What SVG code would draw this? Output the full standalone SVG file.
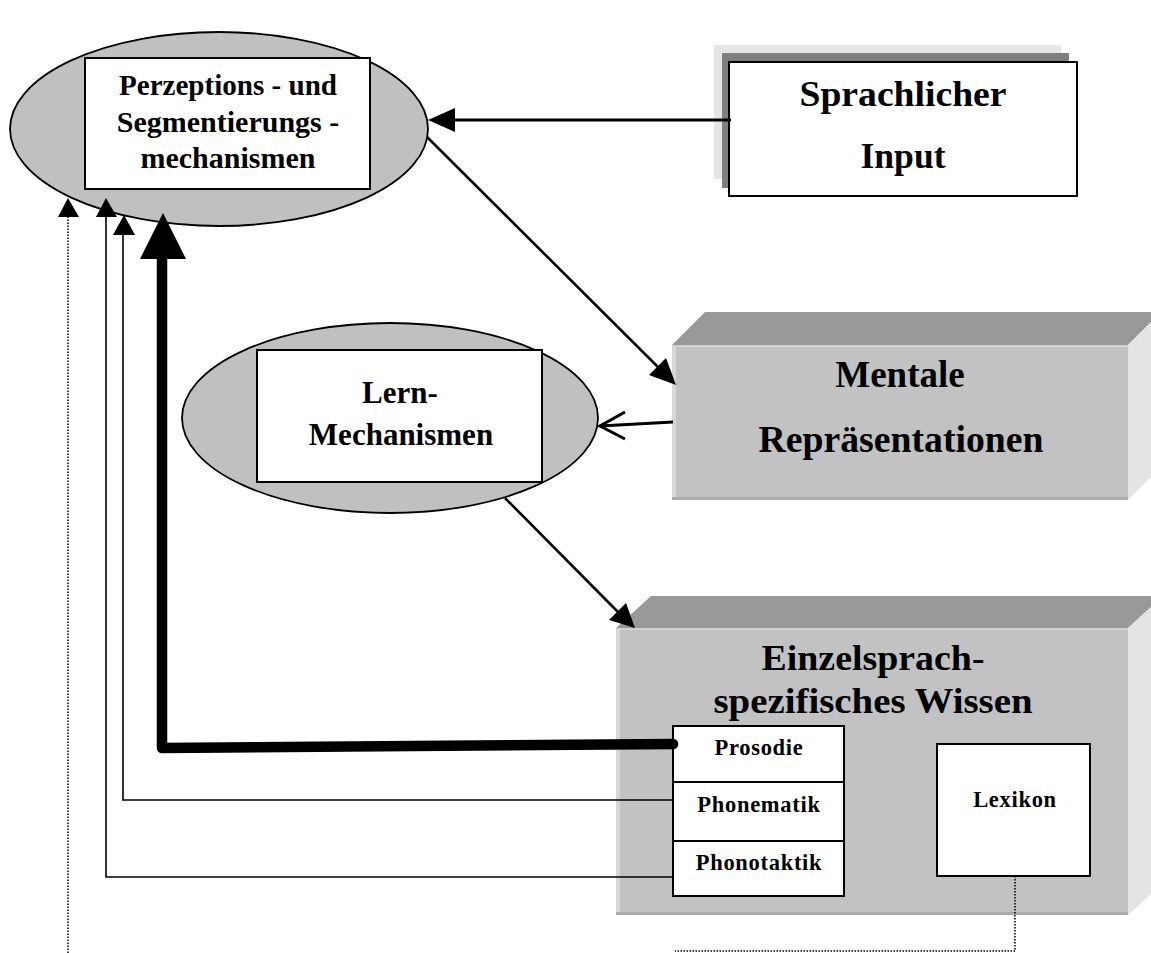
<svg xmlns="http://www.w3.org/2000/svg" width="1151" height="953" viewBox="0 0 1151 953">
<defs>
<style>
text{font-family:"Liberation Serif","Times New Roman",serif;font-weight:bold;fill:#000;text-anchor:middle}
.ell{fill:#c0c0c0;stroke:#000;stroke-width:1.8}
.wbox{fill:#fff;stroke:#000;stroke-width:2}
.top{fill:#999999}
.front{fill:#c2c2c2}
.side{fill:#e4e4e4}
.small{font-size:22.5px;letter-spacing:0.7px}
.thin{fill:none;stroke:#000;stroke-width:1.6}
.dot{fill:none;stroke:#000;stroke-width:1.5;stroke-dasharray:1.5 1.5}
</style>
</defs>

<g id="node-perzeption">
  <ellipse class="ell" cx="219" cy="129" rx="209" ry="97"/>
  <rect class="wbox" x="85" y="58" width="285" height="131"/>
  <text x="228" y="95" font-size="30" textLength="218" lengthAdjust="spacingAndGlyphs">Perzeptions - und</text>
  <text x="228" y="132" font-size="30">Segmentierungs -</text>
  <text x="228" y="168" font-size="30">mechanismen</text>
</g>

<g id="node-input">
  <rect x="714" y="45" width="347" height="134" fill="#e6e6e6"/>
  <rect x="722" y="53" width="347" height="135" fill="#808080"/>
  <rect class="wbox" x="729" y="62" width="348" height="134"/>
  <text x="903" y="106" font-size="36" textLength="207" lengthAdjust="spacingAndGlyphs">Sprachlicher</text>
  <text x="903" y="168" font-size="36" textLength="85" lengthAdjust="spacingAndGlyphs">Input</text>
</g>

<g id="node-mentale">
  <polygon class="top" points="672,345 705,312 1161,312 1128,345"/>
  <polygon class="side" points="1128,345 1161,312 1161,467 1128,500"/>
  <rect class="front" x="672" y="345" width="456" height="155"/>
  <rect x="672" y="345" width="4" height="155" fill="#d8d8d8"/>
  <rect x="672" y="345" width="456" height="2" fill="#d0d0d0"/>
  <rect x="672" y="497" width="456" height="3" fill="#ababab"/>
  <text x="900" y="387" font-size="37">Mentale</text>
  <text x="901" y="452" font-size="37" textLength="285" lengthAdjust="spacingAndGlyphs">Repräsentationen</text>
</g>

<g id="node-lern">
  <ellipse class="ell" cx="390" cy="418" rx="208" ry="95"/>
  <rect class="wbox" x="257" y="350" width="285" height="132"/>
  <text x="400" y="403" font-size="31">Lern-</text>
  <text x="401" y="445" font-size="31">Mechanismen</text>
</g>

<g id="node-einzelsprach">
  <polygon class="top" points="616,628 651,596 1163,596 1128,628"/>
  <polygon class="side" points="1128,628 1163,596 1163,883 1128,915"/>
  <rect class="front" x="616" y="628" width="512" height="287"/>
  <rect x="616" y="628" width="4" height="287" fill="#d8d8d8"/>
  <rect x="616" y="628" width="512" height="2" fill="#d0d0d0"/>
  <rect x="616" y="912" width="512" height="3" fill="#ababab"/>
  <text x="873" y="670" font-size="36" textLength="223" lengthAdjust="spacingAndGlyphs">Einzelsprach-</text>
  <text x="873" y="713" font-size="36" textLength="319" lengthAdjust="spacingAndGlyphs">spezifisches Wissen</text>
</g>

<g id="node-prosodie">
  <rect class="wbox" x="673" y="726" width="171" height="56"/>
  <text class="small" x="759" y="755">Prosodie</text>
</g>
<g id="node-phonematik">
  <rect class="wbox" x="673" y="782" width="171" height="59"/>
  <text class="small" x="759" y="812">Phonematik</text>
</g>
<g id="node-phonotaktik">
  <rect class="wbox" x="673" y="841" width="171" height="55"/>
  <text class="small" x="759" y="870">Phonotaktik</text>
</g>
<g id="node-lexikon">
  <rect class="wbox" x="937" y="744" width="153" height="132"/>
  <text class="small" x="1015" y="807">Lexikon</text>
</g>

<g id="connectors">
  <!-- Sprachlicher Input -> Perzeption -->
  <line x1="731" y1="120" x2="452" y2="120" stroke="#000" stroke-width="3"/>
  <polygon points="428,120 455,108 455,132" fill="#000"/>
  <!-- Perzeption -> Mentale -->
  <line x1="427" y1="137" x2="660" y2="369" stroke="#000" stroke-width="2.6"/>
  <polygon points="676,385 649,375 666,358" fill="#000"/>
  <!-- Mentale -> Lern (open arrow) -->
  <line x1="673" y1="422" x2="600" y2="426" stroke="#000" stroke-width="3"/>
  <polyline points="625,412 600,426 625,439" fill="none" stroke="#000" stroke-width="3"/>
  <!-- Lern -> Einzelsprach -->
  <line x1="505" y1="498" x2="620" y2="614" stroke="#000" stroke-width="2.6"/>
  <polygon points="635,628 609,620 626,603" fill="#000"/>
  <!-- Prosodie thick -->
  <path d="M673,744 L162,748 L162,255" fill="none" stroke="#000" stroke-width="10.5" stroke-linecap="round" stroke-linejoin="round"/>
  <polygon points="163,213 140,259 186,259" fill="#000"/>
  <!-- Phonematik -->
  <polyline class="thin" points="673,800 123,800 123,232"/>
  <polygon points="124,215 113,235 135,235" fill="#000"/>
  <!-- Phonotaktik -->
  <polyline class="thin" points="673,877 106,877 106,214"/>
  <polygon points="106,198 96,217 117,217" fill="#000"/>
  <!-- Lexikon dotted -->
  <polyline class="dot" points="1015,876 1015,951 675,951"/>
  <polyline class="dot" points="68,953 68,214"/>
  <polygon points="68,198 58,217 79,217" fill="#000"/>
</g>
</svg>
